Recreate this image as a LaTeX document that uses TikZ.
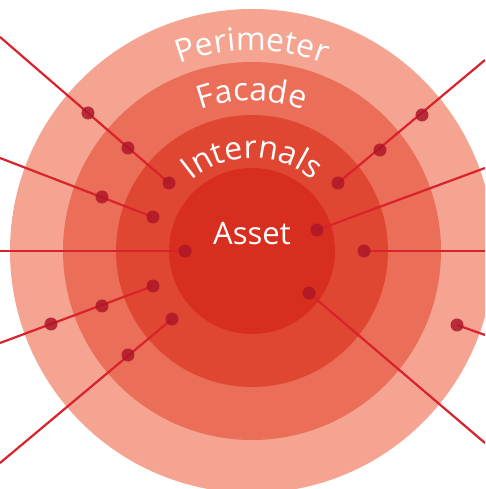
\documentclass[tikz,border=0pt]{standalone}
\usepackage{fontspec}
\setmainfont{Open Sans}
\usepackage{xcolor}
\usepackage{tikz}
\usetikzlibrary{decorations.text}
\definecolor{perim}{HTML}{F4A491}
\definecolor{facade}{HTML}{EB6E58}
\definecolor{intern}{HTML}{E04733}
\definecolor{asset}{HTML}{D72E1F}
\definecolor{linered}{HTML}{D9222A}
\definecolor{dotred}{HTML}{AE1728}
\tikzstyle{dot}=[circle,fill=dotred,fill opacity=0.85,minimum size=13pt,inner sep=0pt]
\tikzstyle{attack}=[draw,linered,line width=2.2pt]
\tikzstyle{assetlabel}=[text=white,font=\fontsize{31}{31}\selectfont,inner sep=0pt]
\tikzset{ringlabel/.style={decorate,decoration={text along path,text align=center,
  text={|\fontsize{32}{32}\selectfont\color{white}|#1}}}}

\begin{document}
\begin{tikzpicture}[x=1pt,y=1pt]

 \useasboundingbox (-252,-238) rectangle (233,251);
 \clip (-252,-238) rectangle (233,251);

 %rings
 \fill[perim] (0,0) circle[radius=242pt];
 \fill[facade] (0,0) circle[radius=189pt];
 \fill[intern] (0,0) circle[radius=136pt];
 \fill[asset] (0,0) circle[radius=83pt];

 %labels
 \path[ringlabel=Perimeter] (160:201pt) arc[start angle=160,end angle=20,radius=201pt];
 \path[ringlabel=Facade] (165:150pt) arc[start angle=165,end angle=15,radius=150pt];
 \path[ringlabel=Internals] (175:93pt) arc[start angle=175,end angle=5,radius=93pt];
 \node[assetlabel,anchor=base] (asset) at (0,6) {Asset};

 %free ends
 \foreach \x/\y/\name in {-252/214/e1, -252/93/e2, -252/0/e3, -252/-92/e4, -252/-212/e5,
                          233/191/e6, 233/83/e7, 233/0/e8, 233/-84/e9, 233/-192/e10}
   \coordinate (\name) at (\x,\y);

 %dots
 \foreach \x/\y/\name in {-164/138/p1, -124/103/f1, -83/68/i1, -150/54/f2, -99/34/i2,
                          -67/0/a3, -201/-73/p4, -150/-55/f4, -99/-35/i4, -124/-104/f5,
                          -80/-68/i5, 170/136/p6, 128/101/f6, 86/68/i6, 65/21/a7,
                          112/0/i8, 205/-74/p9, 57/-42/a10}
   \coordinate (\name) at (\x,\y);

 \foreach \source/\dest in {e1/i1, e2/i2, e3/a3, e4/i4, e5/i5, e6/i6, e7/a7, e8/i8, e9/p9, e10/a10}
   \path[attack] (\source) -- (\dest);

 \foreach \name in {p1, f1, i1, f2, i2, a3, p4, f4, i4, f5, i5, p6, f6, i6, a7, i8, p9, a10}
   \node[dot] (\name dot) at (\name) {};

\end{tikzpicture}
\end{document}
